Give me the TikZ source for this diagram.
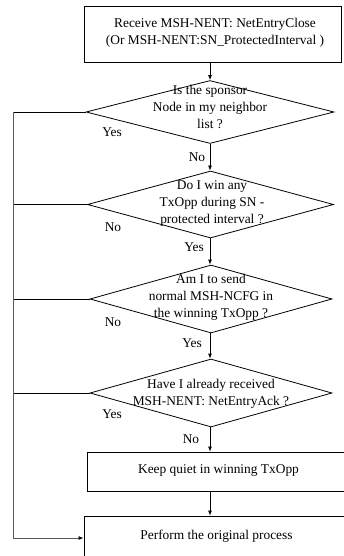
\documentclass[tikz,border=0pt]{standalone}
\usepackage{fontspec}
\setmainfont{Liberation Serif}
\usetikzlibrary{shapes.geometric,arrows.meta}
\begin{document}
\begin{tikzpicture}[x=1pt,y=-1pt,
  every node/.style={font=\fontsize{13.4}{17}\selectfont},
  procbox/.style={draw,line width=0.8pt,inner sep=0pt},
  decision/.style={draw,line width=0.8pt,shape=diamond,inner sep=0pt},
  dtext/.style={align=center,inner sep=0pt},
  lbl/.style={inner sep=0pt},
  flow/.style={line width=0.8pt,-{Latex[length=5pt,width=4pt]}},
  railline/.style={line width=0.9pt,draw=black!65,-{Latex[length=5pt,width=4pt,color=black]}},
  plain/.style={line width=0.8pt}]
\useasboundingbox (0,0) rectangle (344,556);
\clip (0,0) rectangle (344,556);
% boxes
\node[procbox,minimum width=257pt,minimum height=56pt] (start) at (212.5,34) {};
\node[dtext] (starttext) at (215,33) {Receive MSH-NENT: NetEntryClose\\(Or MSH-NENT:SN\_ProtectedInterval )};
\node[procbox,minimum width=263pt,minimum height=39pt] (quiet) at (218.5,471.5) {};
\node[dtext] (quiettext) at (218.5,471) {Keep quiet in winning TxOpp};
\node[procbox,minimum width=265pt,minimum height=44pt] (perform) at (216.5,538) {};
\node[dtext] (performtext) at (216.5,536.5) {Perform the original process};
% decisions
\node[decision,minimum width=248pt,minimum height=63pt] (d1) at (210,112) {};
\node[dtext] (d1t) at (210,107) {Is the sponsor\\Node in my neighbor\\list ?};
\node[decision,minimum width=246pt,minimum height=67pt] (d2) at (210.5,204.5) {};
\node[dtext] (d2t) at (212,203) {Do I win any\\TxOpp during SN -\\protected interval ?};
\node[decision,minimum width=242pt,minimum height=68pt] (d3) at (211,299) {};
\node[dtext] (d3t) at (211,297) {Am I to send\\normal MSH-NCFG in\\the winning TxOpp ?};
\node[decision,minimum width=242pt,minimum height=68pt] (d4) at (211,393) {};
\node[dtext] (d4t) at (211,394) {Have I already received\\MSH-NENT: NetEntryAck ?};
% left rail
\coordinate (rail) at (13.5,112);
% labels
\node[lbl] (y1) at (112,132) {Yes};
\node[lbl] (n1) at (197,157.5) {No};
\node[lbl] (n2) at (113,227) {No};
\node[lbl] (y2) at (194,247) {Yes};
\node[lbl] (n3) at (113,322) {No};
\node[lbl] (y3) at (192,343) {Yes};
\node[lbl] (y4) at (112,414) {Yes};
\node[lbl] (n4) at (191,439) {No};
% main flow
\draw[flow] (start.south -| d1.north) -- (d1.north);
\draw[flow] (d1.south) -- (d2.north -| d1.south);
\draw[flow] (d2.south -| d1.south) -- (d3.north -| d1.south);
\draw[flow] (d3.south -| d1.south) -- (d4.north -| d1.south);
\draw[flow] (d4.south -| d1.south) -- (quiet.north -| d1.south);
\draw[flow] (quiet.south -| d1.south) -- (perform.north -| d1.south);
% left branches
\draw[plain] (d1.west) -- (rail);
\draw[plain] (d2.west) -- (d2.west -| rail);
\draw[plain] (d3.west) -- (d3.west -| rail);
\draw[plain] (d4.west) -- (d4.west -| rail);
\draw[railline] (rail) -- (rail |- perform.west) -- (perform.west);
\end{tikzpicture}
\end{document}
